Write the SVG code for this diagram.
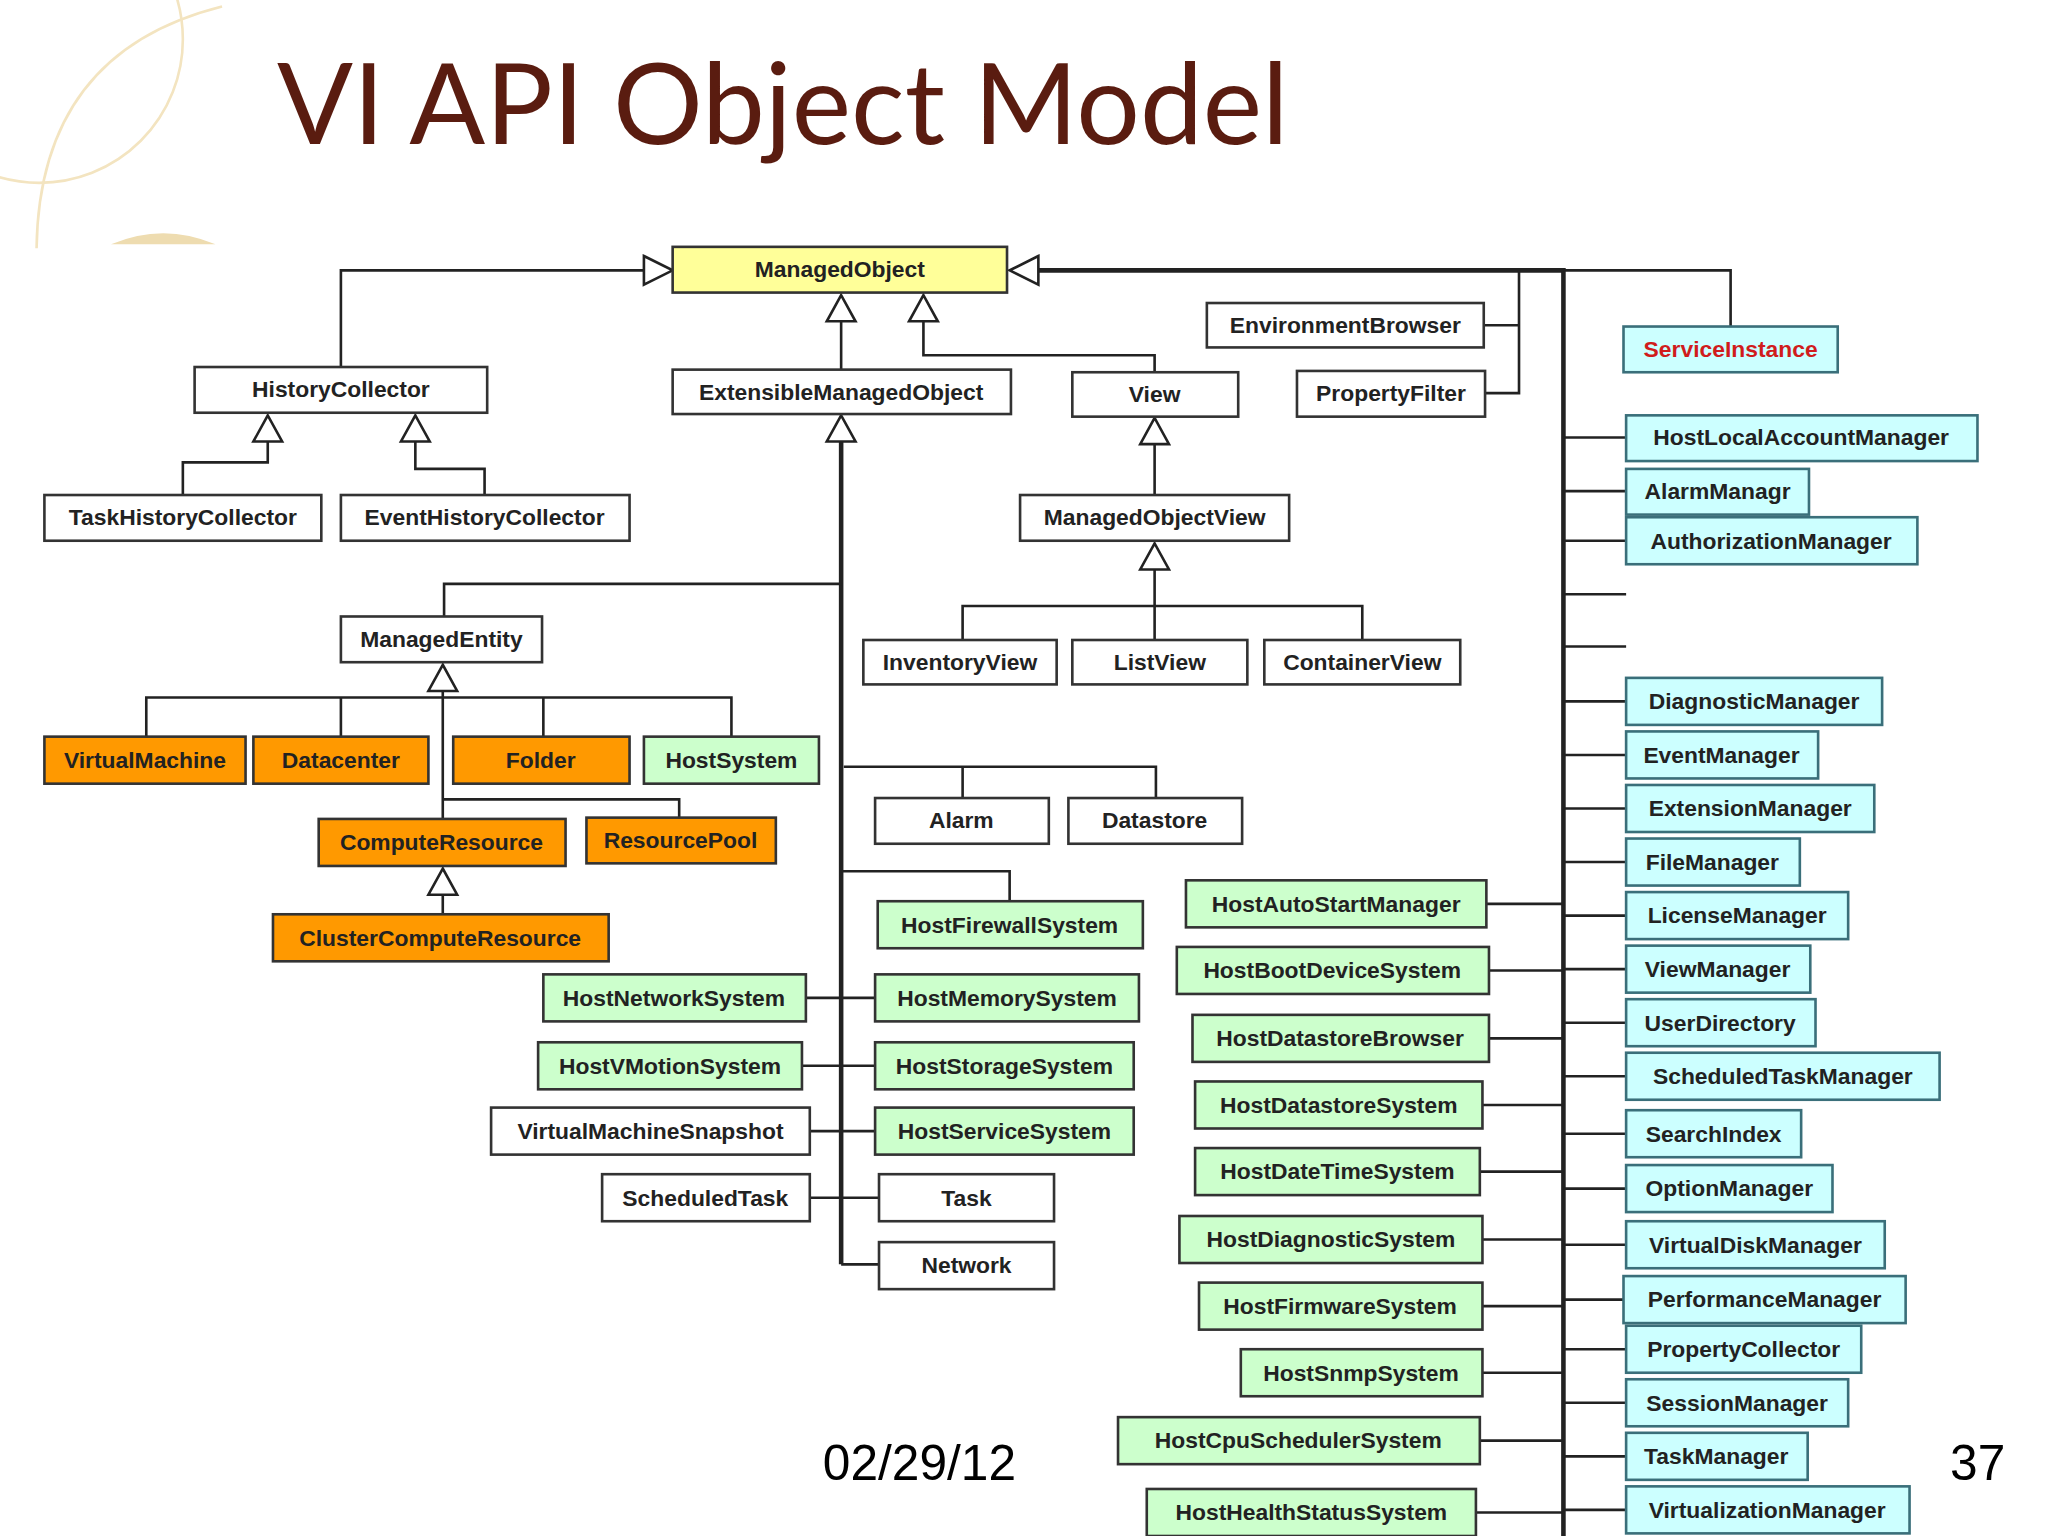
<svg xmlns="http://www.w3.org/2000/svg" width="2048" height="1536" viewBox="0 0 2048 1536">
<style>
.b rect{stroke:#333;stroke-width:2}
.b text{font-family:"Liberation Sans",Arial,sans-serif;font-size:17.5px;font-weight:bold;fill:#222;text-anchor:middle}
.w rect{fill:#fff}.y rect{fill:#ffff99}.o rect{fill:#ff9900}.g rect{fill:#ccffcc}.c rect{fill:#ccffff;stroke:#3a6f7a}
.l line,.l polyline{stroke:#222;stroke-width:2;fill:none}
.l .t{stroke-width:3.5}
.tri{fill:#fff;stroke:#222;stroke-width:2}
</style>
<rect width="2048" height="1536" fill="#fff"/>
<g transform="scale(1.30612)">
<g id="deco" fill="none" stroke="#f3e4c0" stroke-width="2">
<circle cx="30" cy="30" r="110"/><path d="M170 5 Q30 40 28 190"/>
<path d="M85 187 Q125 170 165 187 Z" fill="#eedcb0" stroke="none"/>
</g>
<text x="212" y="110" font-family="Lato,'Open Sans',sans-serif" font-size="86" fill="#5a1c10">VI API Object Model</text>
<text x="630" y="1133" font-family="'Liberation Sans',Arial,sans-serif" font-size="38" fill="#000">02/29/12</text>
<text x="1493" y="1133" font-family="'Liberation Sans',Arial,sans-serif" font-size="38" fill="#000">37</text>
<g id="connectors" class="l">
<polyline points="261,281 261,207 493,207"/>
<polygon class="tri" points="493,196 515,207 493,218"/>
<line x1="644" y1="246" x2="644" y2="283"/>
<polygon class="tri" points="644,226 633,246 655,246"/>
<polyline points="707,246 707,272 884,272 884,285"/>
<polygon class="tri" points="707,226 696,246 718,246"/>
<polyline class="t" points="795,207 1197,207 1197,1176"/>
<polygon class="tri" points="795,196 773,207 795,218"/>
<polyline points="1197,207 1325,207 1325,250"/>
<polyline points="1136,249 1163,249"/><polyline points="1137,301 1163,301 1163,207"/>
<line x1="1197" y1="335" x2="1245" y2="335"/><line x1="1197" y1="376" x2="1245" y2="376"/>
<line x1="1197" y1="414" x2="1245" y2="414"/><line x1="1197" y1="455" x2="1245" y2="455"/>
<line x1="1197" y1="495" x2="1245" y2="495"/><line x1="1197" y1="537" x2="1245" y2="537"/>
<line x1="1197" y1="578" x2="1245" y2="578"/><line x1="1197" y1="619" x2="1245" y2="619"/>
<line x1="1197" y1="660" x2="1245" y2="660"/><line x1="1197" y1="701" x2="1245" y2="701"/>
<line x1="1197" y1="742" x2="1245" y2="742"/><line x1="1197" y1="783" x2="1245" y2="783"/>
<line x1="1197" y1="824" x2="1245" y2="824"/><line x1="1197" y1="868" x2="1245" y2="868"/>
<line x1="1197" y1="910" x2="1245" y2="910"/><line x1="1197" y1="953" x2="1245" y2="953"/>
<line x1="1197" y1="995" x2="1243" y2="995"/><line x1="1197" y1="1033" x2="1245" y2="1033"/>
<line x1="1197" y1="1074" x2="1245" y2="1074"/><line x1="1197" y1="1115" x2="1245" y2="1115"/>
<line x1="1197" y1="1156" x2="1245" y2="1156"/>
<line x1="1138" y1="692" x2="1197" y2="692"/><line x1="1140" y1="743" x2="1197" y2="743"/>
<line x1="1140" y1="795" x2="1197" y2="795"/><line x1="1135" y1="846" x2="1197" y2="846"/>
<line x1="1133" y1="897" x2="1197" y2="897"/><line x1="1135" y1="949" x2="1197" y2="949"/>
<line x1="1135" y1="1000" x2="1197" y2="1000"/><line x1="1135" y1="1051" x2="1197" y2="1051"/>
<line x1="1133" y1="1103" x2="1197" y2="1103"/><line x1="1130" y1="1158" x2="1197" y2="1158"/>
<line class="t" x1="644" y1="338" x2="644" y2="968"/>
<polygon class="tri" points="644,318 633,338 655,338"/>
<polyline points="644,447 340,447 340,472"/>
<polyline points="646,587 885,587 885,611"/><line x1="737" y1="587" x2="737" y2="611"/>
<polyline points="644,667 773,667 773,690"/>
<line x1="617" y1="764" x2="670" y2="764"/><line x1="614" y1="816" x2="670" y2="816"/>
<line x1="620" y1="866" x2="670" y2="866"/><line x1="620" y1="917" x2="673" y2="917"/>
<line x1="644" y1="968" x2="673" y2="968"/>
<polyline points="140,379 140,354 205,354 205,338"/>
<polygon class="tri" points="205,318 194,338 216,338"/>
<polyline points="371,379 371,359 318,359 318,338"/>
<polygon class="tri" points="318,318 307,338 329,338"/>
<line x1="884" y1="340" x2="884" y2="379"/>
<polygon class="tri" points="884,320 873,340 895,340"/>
<line x1="884" y1="436" x2="884" y2="490"/>
<polyline points="737,490 737,464 1043,464 1043,490"/>
<polygon class="tri" points="884,416 873,436 895,436"/>
<line x1="339" y1="529" x2="339" y2="627"/>
<polyline points="112,564 112,534 560,534 560,564"/>
<line x1="261" y1="534" x2="261" y2="564"/><line x1="416" y1="534" x2="416" y2="564"/>
<polyline points="339,612 520,612 520,626"/>
<polygon class="tri" points="339,509 328,529 350,529"/>
<line x1="339" y1="685" x2="339" y2="700"/>
<polygon class="tri" points="339,665 328,685 350,685"/>
</g>
<g id="n-managedobject" class="b y"><rect x="515" y="189" width="256" height="35"/><text x="643" y="212">ManagedObject</text></g>
<g id="n-historycollector" class="b w"><rect x="149" y="281" width="224" height="35"/><text x="261" y="304">HistoryCollector</text></g>
<g id="n-emo" class="b w"><rect x="515" y="283" width="259" height="34"/><text x="644" y="306">ExtensibleManagedObject</text></g>
<g id="n-view" class="b w"><rect x="821" y="285" width="127" height="34"/><text x="884" y="308">View</text></g>
<g id="n-envbrowser" class="b w"><rect x="924" y="232" width="212" height="34"/><text x="1030" y="255">EnvironmentBrowser</text></g>
<g id="n-propfilter" class="b w"><rect x="993" y="284" width="144" height="35"/><text x="1065" y="307">PropertyFilter</text></g>
<g id="n-serviceinstance" class="b c"><rect x="1243" y="250" width="164" height="35"/><text x="1325" y="273" style="fill:#d01c1c">ServiceInstance</text></g>
<g id="n-taskhc" class="b w"><rect x="34" y="379" width="212" height="35"/><text x="140" y="402">TaskHistoryCollector</text></g>
<g id="n-eventhc" class="b w"><rect x="261" y="379" width="221" height="35"/><text x="371" y="402">EventHistoryCollector</text></g>
<g id="n-mov" class="b w"><rect x="781" y="379" width="206" height="35"/><text x="884" y="402">ManagedObjectView</text></g>
<g id="n-managedentity" class="b w"><rect x="261" y="472" width="154" height="35"/><text x="338" y="495">ManagedEntity</text></g>
<g id="n-inventoryview" class="b w"><rect x="661" y="490" width="148" height="34"/><text x="735" y="513">InventoryView</text></g>
<g id="n-listview" class="b w"><rect x="821" y="490" width="134" height="34"/><text x="888" y="513">ListView</text></g>
<g id="n-containerview" class="b w"><rect x="968" y="490" width="150" height="34"/><text x="1043" y="513">ContainerView</text></g>
<g id="n-vm" class="b o"><rect x="34" y="564" width="154" height="36"/><text x="111" y="588">VirtualMachine</text></g>
<g id="n-datacenter" class="b o"><rect x="194" y="564" width="134" height="36"/><text x="261" y="588">Datacenter</text></g>
<g id="n-folder" class="b o"><rect x="347" y="564" width="135" height="36"/><text x="414" y="588">Folder</text></g>
<g id="n-hostsystem" class="b g"><rect x="493" y="564" width="134" height="36"/><text x="560" y="588">HostSystem</text></g>
<g id="n-computeresource" class="b o"><rect x="244" y="627" width="189" height="36"/><text x="338" y="651">ComputeResource</text></g>
<g id="n-resourcepool" class="b o"><rect x="449" y="626" width="145" height="35"/><text x="521" y="649">ResourcePool</text></g>
<g id="n-ccr" class="b o"><rect x="209" y="700" width="257" height="36"/><text x="337" y="724">ClusterComputeResource</text></g>
<g id="n-alarm" class="b w"><rect x="670" y="611" width="133" height="35"/><text x="736" y="634">Alarm</text></g>
<g id="n-datastore" class="b w"><rect x="818" y="611" width="133" height="35"/><text x="884" y="634">Datastore</text></g>
<g id="n-hfw" class="b g"><rect x="672" y="690" width="203" height="36"/><text x="773" y="714">HostFirewallSystem</text></g>
<g id="n-hmem" class="b g"><rect x="670" y="746" width="202" height="36"/><text x="771" y="770">HostMemorySystem</text></g>
<g id="n-hsto" class="b g"><rect x="670" y="798" width="198" height="36"/><text x="769" y="822">HostStorageSystem</text></g>
<g id="n-hsvc" class="b g"><rect x="670" y="848" width="198" height="36"/><text x="769" y="872">HostServiceSystem</text></g>
<g id="n-task" class="b w"><rect x="673" y="899" width="134" height="36"/><text x="740" y="923">Task</text></g>
<g id="n-network" class="b w"><rect x="673" y="951" width="134" height="36"/><text x="740" y="975">Network</text></g>
<g id="n-hnet" class="b g"><rect x="416" y="746" width="201" height="36"/><text x="516" y="770">HostNetworkSystem</text></g>
<g id="n-hvm" class="b g"><rect x="412" y="798" width="202" height="36"/><text x="513" y="822">HostVMotionSystem</text></g>
<g id="n-vmsnap" class="b w"><rect x="376" y="848" width="244" height="36"/><text x="498" y="872">VirtualMachineSnapshot</text></g>
<g id="n-schedtask" class="b w"><rect x="461" y="899" width="159" height="36"/><text x="540" y="923">ScheduledTask</text></g>
<g id="n-hasm" class="b g"><rect x="908" y="674" width="230" height="36"/><text x="1023" y="698">HostAutoStartManager</text></g>
<g id="n-hbds" class="b g"><rect x="901" y="725" width="239" height="36"/><text x="1020" y="749">HostBootDeviceSystem</text></g>
<g id="n-hdsb" class="b g"><rect x="913" y="777" width="227" height="36"/><text x="1026" y="801">HostDatastoreBrowser</text></g>
<g id="n-hdss" class="b g"><rect x="915" y="828" width="220" height="36"/><text x="1025" y="852">HostDatastoreSystem</text></g>
<g id="n-hdts" class="b g"><rect x="915" y="879" width="218" height="36"/><text x="1024" y="903">HostDateTimeSystem</text></g>
<g id="n-hdiag" class="b g"><rect x="903" y="931" width="232" height="36"/><text x="1019" y="955">HostDiagnosticSystem</text></g>
<g id="n-hfirm" class="b g"><rect x="918" y="982" width="217" height="36"/><text x="1026" y="1006">HostFirmwareSystem</text></g>
<g id="n-hsnmp" class="b g"><rect x="950" y="1033" width="185" height="36"/><text x="1042" y="1057">HostSnmpSystem</text></g>
<g id="n-hcpu" class="b g"><rect x="856" y="1085" width="277" height="36"/><text x="994" y="1109">HostCpuSchedulerSystem</text></g>
<g id="n-hhs" class="b g"><rect x="878" y="1140" width="252" height="36"/><text x="1004" y="1164">HostHealthStatusSystem</text></g>
<g id="n-hlam" class="b c"><rect x="1245" y="318" width="269" height="35"/><text x="1379" y="341">HostLocalAccountManager</text></g>
<g id="n-alarmm" class="b c"><rect x="1245" y="359" width="140" height="35"/><text x="1315" y="382">AlarmManagr</text></g>
<g id="n-authm" class="b c"><rect x="1245" y="396" width="223" height="36"/><text x="1356" y="420">AuthorizationManager</text></g>
<g id="n-diagm" class="b c"><rect x="1245" y="519" width="196" height="36"/><text x="1343" y="543">DiagnosticManager</text></g>
<g id="n-eventm" class="b c"><rect x="1245" y="560" width="147" height="36"/><text x="1318" y="584">EventManager</text></g>
<g id="n-extm" class="b c"><rect x="1245" y="601" width="190" height="36"/><text x="1340" y="625">ExtensionManager</text></g>
<g id="n-filem" class="b c"><rect x="1245" y="642" width="133" height="36"/><text x="1311" y="666">FileManager</text></g>
<g id="n-licm" class="b c"><rect x="1245" y="683" width="170" height="36"/><text x="1330" y="707">LicenseManager</text></g>
<g id="n-viewm" class="b c"><rect x="1245" y="724" width="141" height="36"/><text x="1315" y="748">ViewManager</text></g>
<g id="n-userdir" class="b c"><rect x="1245" y="765" width="145" height="36"/><text x="1317" y="789">UserDirectory</text></g>
<g id="n-stm" class="b c"><rect x="1245" y="806" width="240" height="36"/><text x="1365" y="830">ScheduledTaskManager</text></g>
<g id="n-search" class="b c"><rect x="1245" y="850" width="134" height="36"/><text x="1312" y="874">SearchIndex</text></g>
<g id="n-optm" class="b c"><rect x="1245" y="892" width="158" height="36"/><text x="1324" y="916">OptionManager</text></g>
<g id="n-vdm" class="b c"><rect x="1245" y="935" width="198" height="36"/><text x="1344" y="959">VirtualDiskManager</text></g>
<g id="n-perfm" class="b c"><rect x="1243" y="977" width="216" height="36"/><text x="1351" y="1001">PerformanceManager</text></g>
<g id="n-propc" class="b c"><rect x="1245" y="1015" width="180" height="36"/><text x="1335" y="1039">PropertyCollector</text></g>
<g id="n-sessm" class="b c"><rect x="1245" y="1056" width="170" height="36"/><text x="1330" y="1080">SessionManager</text></g>
<g id="n-taskm" class="b c"><rect x="1245" y="1097" width="139" height="36"/><text x="1314" y="1121">TaskManager</text></g>
<g id="n-virtm" class="b c"><rect x="1245" y="1138" width="217" height="36"/><text x="1353" y="1162">VirtualizationManager</text></g>
</g>
</svg>
